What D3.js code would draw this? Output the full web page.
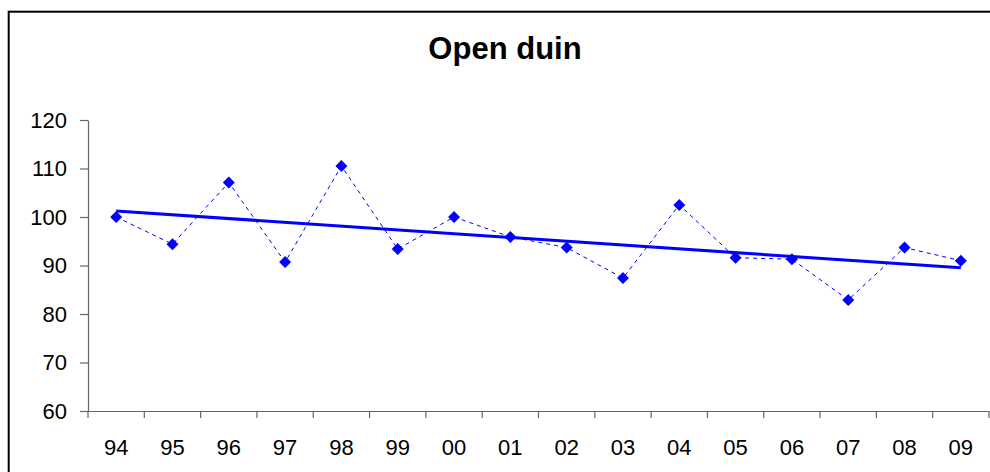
<!DOCTYPE html>
<html>
<head>
<meta charset="utf-8">
<script src="https://cdn.jsdelivr.net/npm/d3@7"></script>
<style>
  html, body { margin: 0; padding: 0; background: #fff; }
  svg { display: block; }
  text { font-family: "Liberation Sans", Arial, sans-serif; fill: #000; }
</style>
</head>
<body>
<div id="chart"></div>
<script>
const years = ['94', '95', '96', '97', '98', '99', '00', '01', '02', '03', '04', '05', '06', '07', '08', '09'];
const values = [100, 94.4, 107.1, 90.7, 110.5, 93.4, 100, 95.9, 93.7, 87.4, 102.5, 91.6, 91.3, 82.9, 93.7, 91.0];
const yTicks = [60, 70, 80, 90, 100, 110, 120];
const title = 'Open duin';

const width = 990, height = 472;
const plot = {left: 88, right: 989, top: 120, bottom: 411};

const svg = d3.select('#chart').append('svg')
	.attr('width', width)
	.attr('height', height);

// outer frame (cut off right and bottom like the source)
svg.append('rect')
	.attr('x', 8.7).attr('y', 11.7)
	.attr('width', 1000).attr('height', 500)
	.attr('fill', 'none')
	.attr('stroke', '#000')
	.attr('stroke-width', 2);

svg.append('text')
	.attr('x', 505).attr('y', 59)
	.attr('text-anchor', 'middle')
	.style('font-size', '31px')
	.style('font-weight', 'bold')
	.text(title);

const xScale = d3.scaleBand()
	.domain(years)
	.range([plot.left, plot.right]);

const yScale = d3.scaleLinear()
	.domain([60, 120])
	.range([plot.bottom, plot.top]);

// y axis
const yAxis = svg.append('g')
	.attr('transform', `translate(${plot.left}, 0)`)
	.call(d3.axisLeft(yScale).tickValues(yTicks).tickSize(8).tickPadding(13).tickSizeOuter(0));

// x axis with ticks between categories
const xAxis = svg.append('g')
	.attr('transform', `translate(0, ${plot.bottom})`)
	.call(d3.axisBottom(xScale).tickSize(0).tickPadding(28).tickSizeOuter(0));

xAxis.selectAll('.sep')
	.data(d3.range(years.length + 1))
	.enter()
	.append('line')
	.attr('class', 'sep')
	.attr('x1', i => plot.left + i * xScale.step())
	.attr('x2', i => plot.left + i * xScale.step())
	.attr('y1', 0)
	.attr('y2', 7);

[yAxis, xAxis].forEach(ax => {
	ax.select('.domain').attr('stroke', '#666').attr('stroke-width', 1.2);
	ax.selectAll('line').attr('stroke', '#666').attr('stroke-width', 1.2);
	ax.selectAll('text')
		.style('font-size', '22px')
		.style('font-family', '"Liberation Sans", Arial, sans-serif')
		.attr('fill', '#000');
});

const cx = d => xScale(d) + xScale.bandwidth() / 2;

// trend line (least squares over the series)
const n = values.length;
const xm = d3.mean(d3.range(n));
const ym = d3.mean(values);
const slope = d3.sum(values, (v, i) => (i - xm) * (v - ym)) / d3.sum(d3.range(n), i => (i - xm) * (i - xm));
const trend = [0, n - 1].map(i => ({year: years[i], value: ym + slope * (i - xm)}));

const line = d3.line()
	.x(d => cx(d.year))
	.y(d => yScale(d.value));

const points = years.map((year, i) => ({year, value: values[i]}));

svg.append('path')
	.datum(points)
	.attr('d', line)
	.attr('fill', 'none')
	.attr('stroke', '#0000ff')
	.attr('stroke-width', 1)
	.attr('stroke-dasharray', '4,4');

svg.append('path')
	.datum(trend)
	.attr('d', line)
	.attr('fill', 'none')
	.attr('stroke', '#0000ff')
	.attr('stroke-width', 3);

svg.selectAll('.pt')
	.data(points)
	.enter()
	.append('path')
	.attr('class', 'pt')
	.attr('transform', d => `translate(${cx(d.year)}, ${yScale(d.value)})`)
	.attr('d', 'M0,-6L6,0L0,6L-6,0Z')
	.attr('fill', '#0000ff');
</script>
</body>
</html>
